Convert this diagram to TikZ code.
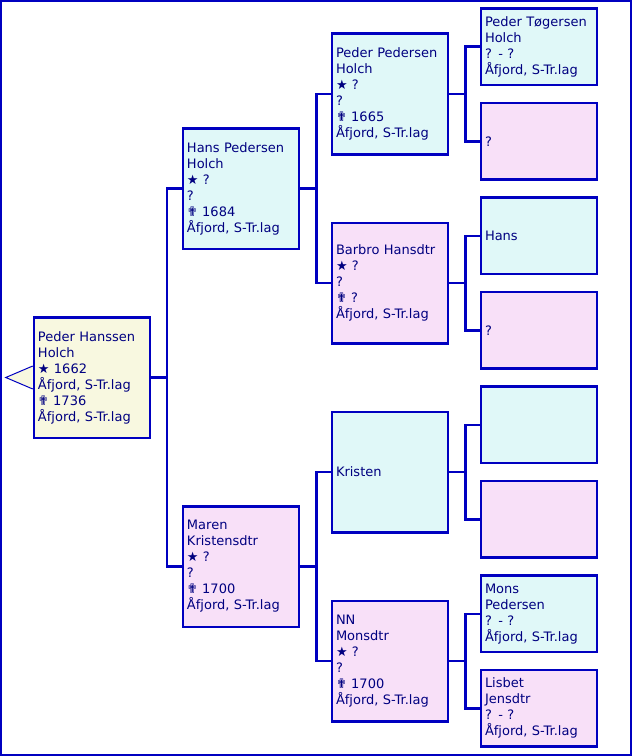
\documentclass[tikz,border=0pt]{standalone}
\usepackage{fontspec}
\setmainfont{DejaVu Sans}
\usepackage{tikz}
\usetikzlibrary{trees}
\definecolor{linecol}{HTML}{0000C0}
\definecolor{textcol}{HTML}{000080}
\definecolor{malecol}{HTML}{E0F8F8}
\definecolor{femalecol}{HTML}{F8E0F8}
\definecolor{rootcol}{HTML}{F8F8E0}
\newcommand{\born}{{\fontsize{13}{16}\selectfont ★}}
\newcommand{\died}{{\fontsize{13}{16}\selectfont ✟}}
\tikzset{%
  person/.style = {shape=rectangle, draw=linecol, line width=2.5pt,%
                   text=textcol, align=left, text width=108pt,%
                   inner xsep=4pt, inner ysep=0pt, minimum height=120.5pt,%
                   font=\fontsize{13}{16}\selectfont},%
  rootp/.style  = {person, fill=rootcol},%
  male/.style   = {person, fill=malecol},%
  female/.style = {person, fill=femalecol},%
  leaf/.style   = {minimum height=76.5pt}%
}
\begin{document}
\begin{tikzpicture}[grow'=right, level distance=149pt,
    edge from parent/.style={draw=linecol, line width=2.5pt},
    edge from parent path={(\tikzparentnode.east) -- +(16pt,0) |- (\tikzchildnode.west)}]
  \useasboundingbox (-92pt,-378.5pt) rectangle (540pt,377.5pt);
  \draw[linecol, line width=2.5pt] (-91pt,-377.25pt) rectangle (538.75pt,376.25pt);
  \tikzstyle{level 1}=[sibling distance=378pt]%
  \tikzstyle{level 2}=[sibling distance=189pt]%
  \tikzstyle{level 3}=[sibling distance=94.5pt]%
  \node[rootp] (peder) {Peder Hanssen\\Holch\\\born{} 1662\\Åfjord, S-Tr.lag\\\died{} 1736\\Åfjord, S-Tr.lag}
  child{node[male] (hans) {Hans Pedersen\\Holch\\\born{} ?\\?\\\died{} 1684\\Åfjord, S-Tr.lag}
    child{node[male] (pederp) {Peder Pedersen\\Holch\\\born{} ?\\?\\\died{} 1665\\Åfjord, S-Tr.lag}
      child{node[male, leaf] (pedert) {Peder Tøgersen\\Holch\\? - ?\\Åfjord, S-Tr.lag}}
      child{node[female, leaf] (pederpmor) {?}}
    }
    child{node[female] (barbro) {Barbro Hansdtr\\\born{} ?\\?\\\died{} ?\\Åfjord, S-Tr.lag}
      child{node[male, leaf] (hansf) {Hans}}
      child{node[female, leaf] (barbromor) {?}}
    }
  }
  child{node[female] (maren) {Maren\\Kristensdtr\\\born{} ?\\?\\\died{} 1700\\Åfjord, S-Tr.lag}
    child{node[male] (kristen) {Kristen}
      child{node[male, leaf] (kristenfar) {}}
      child{node[female, leaf] (kristenmor) {}}
    }
    child{node[female] (nn) {NN\\Monsdtr\\\born{} ?\\?\\\died{} 1700\\Åfjord, S-Tr.lag}
      child{node[male, leaf] (mons) {Mons\\Pedersen\\? - ?\\Åfjord, S-Tr.lag}}
      child{node[female, leaf] (lisbet) {Lisbet\\Jensdtr\\? - ?\\Åfjord, S-Tr.lag}}
    }
  };
  % marker to the left of the root
  \draw[linecol, line width=1pt, fill=rootcol] ([yshift=11.5pt]peder.west) -- ++(-27pt,-11.5pt) -- ++(27pt,-11.5pt);
\end{tikzpicture}
\end{document}
